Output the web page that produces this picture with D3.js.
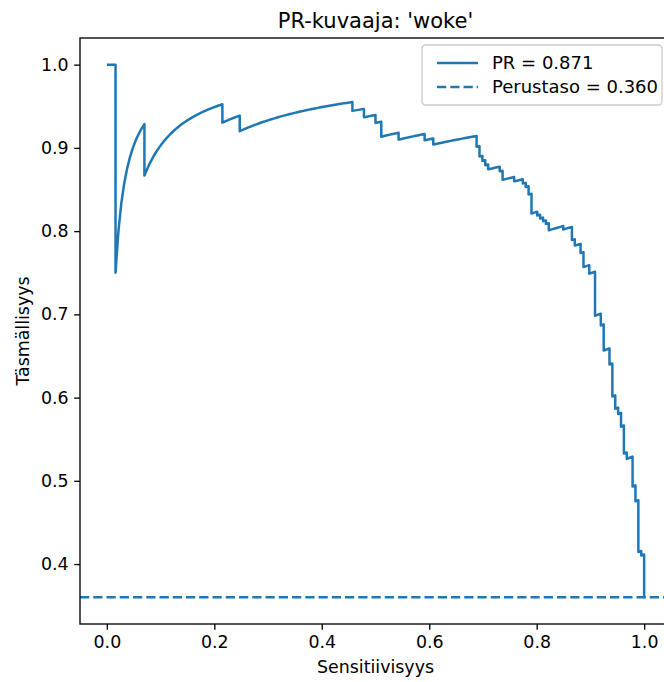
<!DOCTYPE html>
<html>
<head>
<meta charset="utf-8">
<script src="https://cdn.jsdelivr.net/npm/d3@7"></script>
<style>
  body { margin: 0; background: #fff; }
  text { font-family: "DejaVu Sans", sans-serif; fill: #000; }
</style>
</head>
<body>
<div id="chart"></div>
<script>
// ranked predictions, read off the curve as alternating runs:
// posRuns[i] positives followed by negRuns[i] negatives
var posRuns = [3, 10, 27, 6, 39, 4, 4, 2, 6, 9, 3, 15,
    1, 1, 1, 1, 4, 1, 4, 3, 1, 1, 1, 2, 1, 1, 1, 1,
    5, 3, 1, 2, 1, 2, 2, 2, 1, 2, 1, 1, 1, 1, 1, 1, 2, 1, 1, 1, 1];
var negRuns = [1, 1, 1, 1, 1, 1, 1, 2, 1, 1, 1, 2,
    2, 1, 1, 1, 1, 2, 1, 1, 1, 2, 5, 1, 1, 1, 1, 2,
    1, 4, 2, 3, 5, 3, 17, 5, 12, 8, 18, 8, 4, 9, 20, 5, 25, 15, 58, 6, 10, 56];

var prValue = 0.871;
var baseline = 0.360;
var xTicks = [0.0, 0.2, 0.4, 0.6, 0.8, 1.0];
var yTicks = [0.4, 0.5, 0.6, 0.7, 0.8, 0.9, 1.0];
var titleText = "PR-kuvaaja: 'woke'";
var xLabel = "Sensitiivisyys";
var yLabel = "Täsmällisyys";
var legendLabels = ["PR = " + prValue.toFixed(3), "Perustaso = " + baseline.toFixed(3)];

var width = 664,
    height = 682,
    margin = {left: 80, top: 38, right: 671, bottom: 624},
    blue = "#1f77b4",
    fontSize = "17.4px";

// cumulative points like precision_recall_curve
var totalPos = d3.sum(posRuns);
var points = [[0, 1]];
var tp = 0, fp = 0;
for (var i = 0; i < negRuns.length; i++) {
    var np = i < posRuns.length ? posRuns[i] : 0;
    for (var k = 0; k < np; k++) {
        tp++;
        points.push([tp / totalPos, tp / (tp + fp)]);
    }
    for (var k = 0; k < negRuns[i]; k++) {
        fp++;
        points.push([tp / totalPos, tp / (tp + fp)]);
    }
}

var x = d3.scaleLinear().domain([-0.05, 1.05]).range([margin.left, margin.right]);
var y = d3.scaleLinear().domain([0.328, 1.032]).range([margin.bottom, margin.top]);

var svg = d3.select("#chart")
    .append("svg")
    .attr("width", width)
    .attr("height", height);

svg.append("defs").append("clipPath")
    .attr("id", "clip")
    .append("rect")
    .attr("x", margin.left)
    .attr("y", margin.top)
    .attr("width", margin.right - margin.left)
    .attr("height", margin.bottom - margin.top);

var plot = svg.append("g").attr("clip-path", "url(#clip)");

plot.append("path")
    .datum(points)
    .attr("fill", "none")
    .attr("stroke", blue)
    .attr("stroke-width", 2.5)
    .attr("stroke-linejoin", "round")
    .attr("d", d3.line().x(function (d) { return x(d[0]); }).y(function (d) { return y(d[1]); }));

plot.append("line")
    .attr("x1", margin.left)
    .attr("x2", margin.right)
    .attr("y1", y(baseline))
    .attr("y2", y(baseline))
    .attr("stroke", blue)
    .attr("stroke-width", 2.5)
    .attr("stroke-dasharray", "9.25,4");

// axes
var xAxis = d3.axisBottom(x).tickValues(xTicks).tickFormat(d3.format(".1f")).tickSize(5.8).tickPadding(5.5);
var yAxis = d3.axisLeft(y).tickValues(yTicks).tickFormat(d3.format(".1f")).tickSize(5.8).tickPadding(5.5);

var gx = svg.append("g")
    .attr("transform", "translate(0," + margin.bottom + ")")
    .call(xAxis);
var gy = svg.append("g")
    .attr("transform", "translate(" + margin.left + ",0)")
    .call(yAxis);

[gx, gy].forEach(function (g) {
    g.select(".domain").remove();
    g.selectAll(".tick line").attr("stroke", "#000").attr("stroke-width", 1.33);
    g.selectAll(".tick text")
        .style("font-family", "DejaVu Sans")
        .style("font-size", fontSize)
        .attr("fill", "#000");
});

// spines
svg.append("rect")
    .attr("x", margin.left)
    .attr("y", margin.top)
    .attr("width", margin.right - margin.left)
    .attr("height", margin.bottom - margin.top)
    .attr("fill", "none")
    .attr("stroke", "#000")
    .attr("stroke-width", 1.33);

svg.append("text")
    .attr("x", (margin.left + margin.right) / 2)
    .attr("y", margin.top - 10)
    .attr("text-anchor", "middle")
    .style("font-size", "21px")
    .text(titleText);

svg.append("text")
    .attr("x", (margin.left + margin.right) / 2)
    .attr("y", 673)
    .attr("text-anchor", "middle")
    .style("font-size", fontSize)
    .text(xLabel);

svg.append("text")
    .attr("transform", "translate(29," + (margin.top + margin.bottom) / 2 + ") rotate(-90)")
    .attr("text-anchor", "middle")
    .style("font-size", fontSize)
    .text(yLabel);

// legend
var lg = svg.append("g").attr("transform", "translate(422,45)");
lg.append("rect")
    .attr("width", 240)
    .attr("height", 60)
    .attr("rx", 3.5)
    .attr("fill", "#fff")
    .attr("fill-opacity", 0.8)
    .attr("stroke", "#ccc")
    .attr("stroke-width", 1.33);

var rows = lg.selectAll("g.row")
    .data(legendLabels)
    .enter().append("g")
    .attr("class", "row")
    .attr("transform", function (d, i) { return "translate(0," + (18 + i * 24) + ")"; });

rows.append("line")
    .attr("x1", 15)
    .attr("x2", 56)
    .attr("stroke", blue)
    .attr("stroke-width", 2.5)
    .attr("stroke-dasharray", function (d, i) { return i === 1 ? "9.25,4" : null; });

rows.append("text")
    .attr("x", 70)
    .attr("dy", "0.36em")
    .style("font-size", "18px")
    .text(function (d) { return d; });
</script>
</body>
</html>
